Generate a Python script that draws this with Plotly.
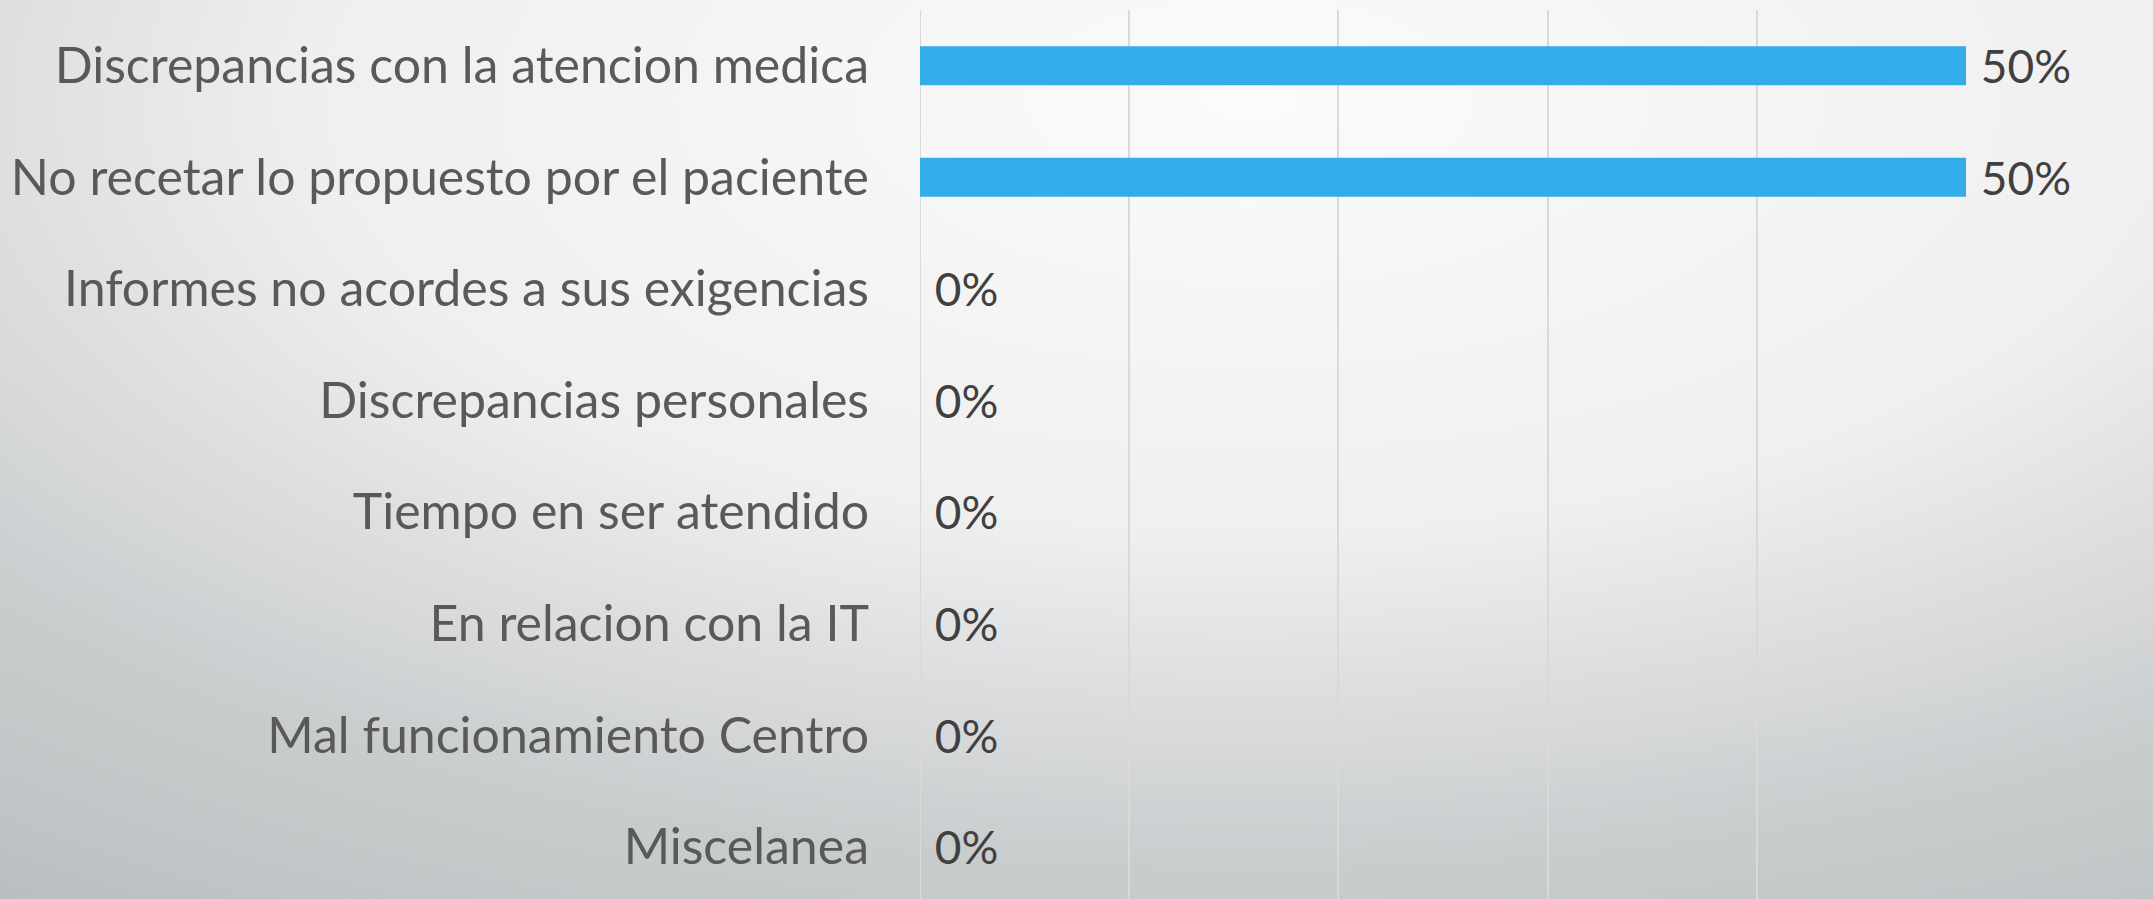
import base64
import plotly.graph_objects as go

categories = [
    "Discrepancias con la atencion medica",
    "No recetar lo propuesto por el paciente",
    "Informes no acordes a sus exigencias",
    "Discrepancias personales",
    "Tiempo en ser atendido",
    "En relacion con la IT",
    "Mal funcionamiento Centro",
    "Miscelanea",
]
values = [50, 50, 0, 0, 0, 0, 0, 0]
value_labels = ["50%", "50%", "0%", "0%", "0%", "0%", "0%", "0%"]

W, H = 2153, 899
L, R, T, B = 920, 187, 10, 0
pw, ph = W - L - R, H - T - B

# soft radial grey background like the slide
stops = [(0, "#fbfbfb"), (0.43, "#efefef"), (0.59, "#dcdddf"), (0.76, "#c8cccd"),
         (0.9, "#bfc5c6"), (0.97, "#b9bfc1"), (1, "#b8bdbf")]
stop_xml = "".join('<stop offset="%s" stop-color="%s"/>' % s for s in stops)
svg = ('<svg xmlns="http://www.w3.org/2000/svg" width="%d" height="%d" viewBox="0 0 %d %d" '
       'preserveAspectRatio="none"><defs><radialGradient id="g" gradientUnits="userSpaceOnUse" '
       'cx="0" cy="0" r="1" gradientTransform="translate(1250 100) scale(2175 1015)">%s'
       '</radialGradient></defs><rect width="%d" height="%d" fill="url(#g)"/></svg>'
       % (W, H, W, H, stop_xml, W, H))
bg = "data:image/svg+xml;base64," + base64.b64encode(svg.encode()).decode()

fig = go.Figure(go.Bar(
    x=values, y=categories, orientation="h",
    marker=dict(color="#32ade9", line=dict(width=0)),
    width=0.35,
    text=[" " + t for t in value_labels], textposition="outside",
    constraintext="none",
    textfont=dict(family="Lato", size=46, color="#404040"),
    cliponaxis=False,
))

fig.update_xaxes(range=[0, 50], dtick=10, showticklabels=False,
                 showgrid=True, gridcolor="#d9d9d9", gridwidth=2, zeroline=False)
fig.update_yaxes(range=[7.47, -0.5], showgrid=False, ticks="",
                 ticklabelstandoff=50,
                 tickfont=dict(family="Lato", size=50, color="#595959"))

fig.add_shape(type="line", xref="x", yref="paper", x0=0, x1=0, y0=0, y1=1,
              line=dict(color="#d9d9d9", width=2), layer="below")

fig.add_layout_image(dict(source=bg, xref="paper", yref="paper",
                          x=-L / pw, y=1 + T / ph, sizex=W / pw, sizey=H / ph,
                          sizing="stretch", layer="below"))

fig.update_layout(
    width=W, height=H,
    margin=dict(l=L, r=R, t=T, b=B, autoexpand=False),
    paper_bgcolor="#e6e7e8",
    plot_bgcolor="rgba(0,0,0,0)",
    showlegend=False,
)

fig.write_html("out.html", config={"displayModeBar": False},
               post_script="document.body.style.margin='0';")
